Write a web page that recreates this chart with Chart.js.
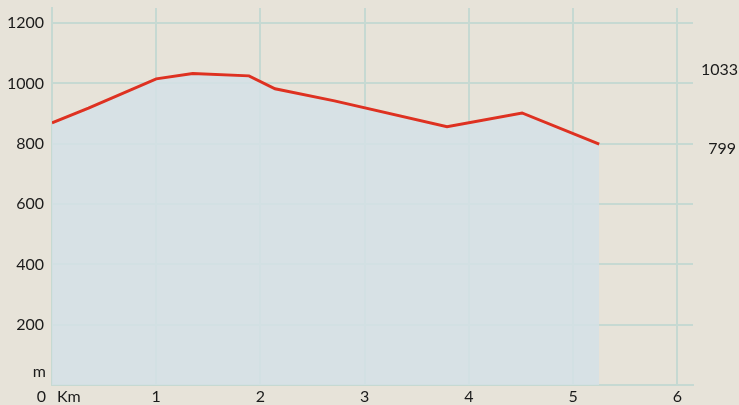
<!DOCTYPE html>
<html>
<head>
<meta charset="utf-8">
<script src="https://cdn.jsdelivr.net/npm/chart.js@4/dist/chart.umd.min.js"></script>
<style>
  html, body { margin: 0; padding: 0; background: #e7e3d9; }
  #wrap { width: 739px; height: 405px; }
</style>
</head>
<body>
<div id="wrap"><canvas id="profileChart" width="739" height="405"></canvas></div>
<script>
// elevation profile
const distanceKm = [0, 0.35, 1.0, 1.35, 1.89, 2.14, 2.71, 3.79, 4.51, 5.25];
const elevationM = [869, 918, 1015, 1033, 1025, 982, 942, 856, 902, 799];
const xTicks = [0, 1, 2, 3, 4, 5, 6];
const yTicks = [0, 200, 400, 600, 800, 1000, 1200];
const sideLabels = [1033, 799];

const FONT = "Lato, 'Open Sans', sans-serif";
const gridColor = '#c6d9d2';

const extraText = {
  id: 'extraText',
  afterDraw(chart) {
    const ctx = chart.ctx;
    const y = chart.scales.y;
    const x = chart.scales.x;
    ctx.save();
    ctx.fillStyle = '#1b1b1b';
    ctx.font = '16px ' + FONT;
    ctx.textBaseline = 'middle';
    ctx.textAlign = 'right';
    ctx.fillText('m', 46, y.getPixelForValue(0) - 13);
    ctx.fillText('0', 46, y.getPixelForValue(0) + 12);
    ctx.textAlign = 'left';
    ctx.fillText('Km', x.getPixelForValue(0) + 5, y.getPixelForValue(0) + 12);
    // end labels on the right
    ctx.textAlign = 'right';
    ctx.fillText(String(sideLabels[0]), 738, y.getPixelForValue(sideLabels[0]) - 4);
    ctx.fillText(String(sideLabels[1]), 736, y.getPixelForValue(sideLabels[1]) + 5);
    ctx.restore();
  }
};

const ctx = document.getElementById('profileChart').getContext('2d');
new Chart(ctx, {
  type: 'line',
  data: {
    datasets: [{
      data: distanceKm.map((d, i) => ({ x: d, y: elevationM[i] })),
      borderColor: '#de3121',
      borderWidth: 3,
      backgroundColor: 'rgba(212, 224, 230, 0.85)',
      fill: 'origin',
      tension: 0,
      pointRadius: 0
    }]
  },
  options: {
    responsive: false,
    animation: false,
    layout: { padding: { top: 8, right: 46, left: 0, bottom: 0 } },
    plugins: { legend: { display: false }, tooltip: { enabled: false } },
    scales: {
      x: {
        type: 'linear',
        min: 0,
        max: 6.15,
        afterBuildTicks(axis) { axis.ticks = xTicks.map(v => ({ value: v })); },
        afterFit(axis) { axis.height = 20; },
        ticks: {
          color: '#1b1b1b',
          font: { family: FONT, size: 16 },
          padding: 2,
          maxRotation: 0,
          callback: v => (v === 0 ? '' : String(v))
        },
        grid: { color: gridColor, lineWidth: 2, drawTicks: false },
        border: { color: gridColor, width: 2 }
      },
      y: {
        min: 0,
        max: 1250,
        afterBuildTicks(axis) { axis.ticks = yTicks.map(v => ({ value: v })); },
        afterFit(axis) {
          axis.width = 52;
          axis.paddingTop = 0;
          axis.paddingBottom = 0;
        },
        ticks: {
          color: '#1b1b1b',
          font: { family: FONT, size: 16 },
          padding: 8,
          callback: v => (v === 0 ? '' : String(v))
        },
        grid: { color: gridColor, lineWidth: 2, drawTicks: false },
        border: { color: gridColor, width: 2 }
      }
    }
  },
  plugins: [extraText]
});
</script>
</body>
</html>
